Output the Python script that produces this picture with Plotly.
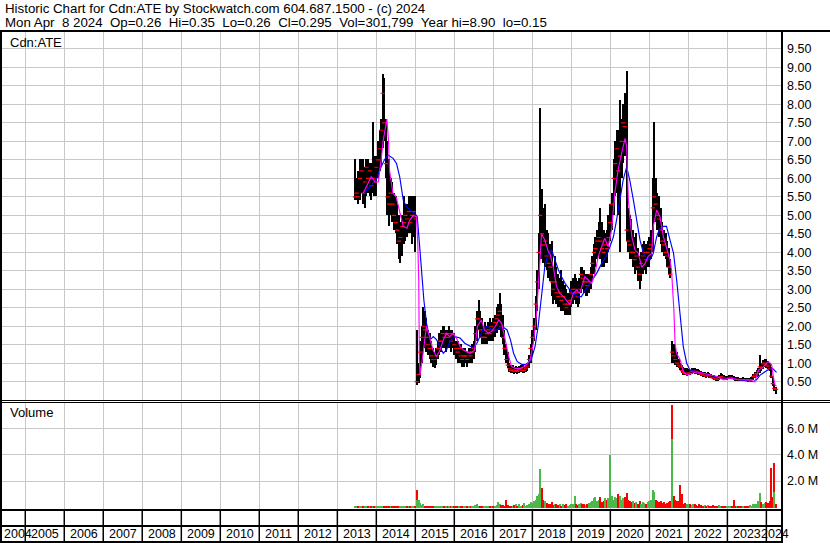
import plotly.graph_objects as go
import pandas as pd

# ---------------- data ----------------
# semi-monthly bars (1st and 15th of each month), Jun 15 2013 .. Apr 1 2024
bar_dates = pd.date_range("2013-06-15", "2024-04-01", freq="SMS")

price_high = [
    6.5, 6.0, 6.2, 6.5, 6.5, 6.5, 6.3, 6.5, 6.5, 6.4, 6.4, 7.5, 6.6,                                   # 2013
    6.6, 7.0, 7.3, 7.6, 8.8, 8.7, 7.6, 7.0, 6.5, 6.0, 5.9, 5.6, 5.5, 5.3, 5.0, 4.8, 5.0, 5.5, 5.3, 5.3, 5.5, 5.5, 5.5, 5.5,  # 2014
    5.5, 1.9, 1.0, 1.6, 2.0, 2.5, 2.4, 2.2, 1.9, 1.8, 1.6, 1.4, 1.3, 1.4, 1.6, 1.8, 1.9, 2.0, 2.0, 1.9, 1.9, 2.0, 1.9, 1.9,  # 2015
    1.8, 1.6, 1.6, 1.5, 1.5, 1.4, 1.4, 1.4, 1.3, 1.4, 1.4, 1.5, 1.6, 2.0, 2.4, 2.7, 2.4, 2.2, 2.0, 2.1, 2.0, 2.1, 2.2, 2.1,  # 2016
    2.2, 2.3, 2.5, 2.6, 2.9, 2.6, 2.3, 1.9, 1.5, 1.3, 1.0, 0.95, 0.95, 0.9, 0.92, 0.9, 0.92, 0.95, 0.95, 0.92, 0.95, 1.0, 1.2, 1.5,  # 2017
    1.9, 2.2, 2.8, 3.5, 4.5, 7.9, 5.7, 5.2, 5.3, 4.6, 4.5, 4.2, 4.3, 3.6, 3.9, 3.6, 3.4, 3.3, 3.5, 3.2, 3.1, 3.0, 2.9, 3.0,  # 2018
    3.2, 3.3, 3.4, 3.3, 3.2, 3.3, 3.6, 3.6, 3.5, 3.4, 3.4, 3.4, 3.6, 3.9, 4.2, 4.4, 4.6, 4.8, 5.2, 4.8, 4.6, 4.5, 4.6, 5.0,  # 2019
    5.3, 5.6, 6.5, 7.0, 7.3, 7.3, 8.1, 7.6, 8.0, 8.3, 8.9, 5.2, 5.0, 4.9, 4.6, 4.4, 4.5, 4.1, 3.9, 4.0, 4.2, 4.3, 4.2, 4.3,  # 2020
    4.4, 4.6, 6.0, 7.5, 6.0, 5.6, 5.5, 5.2, 4.8, 4.6, 4.5, 4.3, 4.1, 3.8, 1.6, 1.5, 1.4, 1.3, 1.1, 1.0, 0.95, 0.9, 0.85, 0.85,  # 2021
    0.82, 0.8, 0.85, 0.86, 0.85, 0.84, 0.82, 0.8, 0.78, 0.76, 0.75, 0.72, 0.74, 0.72, 0.7, 0.68, 0.66, 0.65, 0.64, 0.68, 0.72, 0.7, 0.66, 0.64,  # 2022
    0.64, 0.66, 0.68, 0.66, 0.64, 0.62, 0.63, 0.62, 0.6, 0.6, 0.62, 0.6, 0.6, 0.58, 0.6, 0.62, 0.7, 0.75, 0.8, 0.85, 1.22, 1.0, 1.08, 1.1,  # 2023
    1.1, 1.05, 1.0, 0.9, 0.65, 0.45, 0.35,                                                              # 2024
]
price_low = [
    5.4, 5.4, 5.3, 5.4, 5.6, 5.3, 5.2, 5.5, 5.6, 5.5, 5.4, 5.6, 5.5,
    5.5, 6.0, 6.2, 6.3, 6.8, 7.0, 6.0, 5.0, 4.7, 5.0, 4.8, 4.6, 4.5, 4.2, 3.8, 3.7, 3.9, 4.2, 4.3, 4.4, 4.5, 4.5, 4.2, 4.4,
    4.0, 0.4, 0.45, 0.6, 1.0, 1.4, 1.4, 1.3, 1.2, 1.1, 1.0, 0.9, 0.85, 0.95, 1.1, 1.2, 1.3, 1.4, 1.4, 1.3, 1.4, 1.4, 1.3, 1.4,
    1.2, 1.1, 1.0, 1.0, 1.0, 0.9, 0.9, 1.0, 0.9, 1.0, 1.0, 1.0, 1.1, 1.3, 1.6, 1.9, 1.7, 1.5, 1.5, 1.5, 1.5, 1.6, 1.6, 1.6,
    1.6, 1.7, 1.8, 1.9, 1.9, 1.7, 1.5, 1.2, 1.0, 0.85, 0.75, 0.72, 0.72, 0.7, 0.72, 0.7, 0.72, 0.75, 0.72, 0.72, 0.75, 0.78, 0.85, 1.0,
    1.2, 1.6, 1.9, 2.4, 3.0, 3.8, 3.8, 3.7, 3.6, 3.5, 3.3, 3.2, 2.8, 2.6, 2.7, 2.6, 2.5, 2.5, 2.4, 2.4, 2.3, 2.3, 2.3, 2.3,
    2.5, 2.6, 2.7, 2.6, 2.5, 2.6, 2.9, 3.0, 2.9, 2.8, 2.8, 2.9, 3.0, 3.2, 3.4, 3.6, 3.8, 3.9, 3.8, 3.6, 3.6, 3.7, 3.7, 4.0,
    4.3, 4.6, 5.0, 5.5, 5.6, 5.0, 4.0, 6.0, 6.4, 6.6, 4.3, 4.0, 3.8, 3.8, 3.6, 3.4, 3.5, 3.2, 3.0, 3.2, 3.4, 3.5, 3.4, 3.6,
    3.6, 3.8, 4.0, 4.8, 4.8, 4.6, 4.4, 4.2, 4.0, 3.9, 3.8, 3.6, 3.4, 3.3, 1.0, 1.0, 0.95, 0.9, 0.85, 0.8, 0.72, 0.68, 0.66, 0.65,
    0.66, 0.67, 0.7, 0.72, 0.7, 0.7, 0.68, 0.66, 0.64, 0.62, 0.62, 0.6, 0.62, 0.6, 0.58, 0.56, 0.54, 0.52, 0.52, 0.54, 0.56, 0.56, 0.55, 0.54,
    0.54, 0.55, 0.56, 0.55, 0.53, 0.52, 0.52, 0.52, 0.5, 0.5, 0.51, 0.5, 0.5, 0.49, 0.5, 0.5, 0.54, 0.58, 0.62, 0.65, 0.72, 0.78, 0.82, 0.88,
    0.85, 0.82, 0.78, 0.6, 0.38, 0.25, 0.15,
]
price_close = [
    5.5, 5.6, 5.5, 6.0, 6.2, 5.6, 5.9, 6.3, 6.0, 6.2, 5.8, 6.0, 5.9,
    6.3, 6.5, 6.8, 7.3, 8.3, 7.5, 6.4, 5.5, 5.3, 5.6, 5.3, 5.0, 4.8, 4.6, 4.3, 4.4, 4.7, 4.8, 5.0, 4.9, 5.1, 4.8, 5.0, 5.1,
    4.9, 0.5, 0.7, 1.3, 1.7, 2.0, 1.9, 1.7, 1.5, 1.4, 1.2, 1.1, 1.1, 1.2, 1.4, 1.6, 1.6, 1.8, 1.7, 1.8, 1.7, 1.8, 1.6, 1.8,
    1.5, 1.4, 1.3, 1.4, 1.2, 1.1, 1.2, 1.2, 1.1, 1.3, 1.2, 1.3, 1.4, 1.8, 2.2, 2.2, 1.9, 1.7, 1.7, 1.7, 1.8, 1.9, 1.8, 2.0,
    1.9, 2.1, 2.2, 2.3, 2.4, 2.0, 1.7, 1.4, 1.1, 0.95, 0.85, 0.8, 0.82, 0.78, 0.8, 0.78, 0.82, 0.85, 0.8, 0.8, 0.85, 0.9, 1.1, 1.4,
    1.7, 2.0, 2.6, 3.2, 4.0, 5.0, 4.5, 4.2, 4.3, 3.9, 3.7, 3.6, 3.2, 3.0, 3.2, 2.9, 2.8, 2.9, 2.7, 2.8, 2.6, 2.5, 2.6, 2.7,
    2.9, 3.0, 3.0, 2.9, 2.8, 3.0, 3.4, 3.3, 3.2, 3.2, 3.1, 3.2, 3.4, 3.7, 4.0, 4.1, 4.3, 4.4, 4.3, 4.1, 4.0, 4.2, 4.1, 4.4,
    4.8, 5.3, 6.0, 6.4, 6.8, 6.2, 6.6, 7.0, 7.5, 7.4, 4.6, 4.3, 4.2, 4.0, 4.0, 3.8, 3.9, 3.6, 3.4, 3.7, 3.9, 4.0, 3.8, 4.0,
    4.1, 4.2, 5.2, 5.5, 5.3, 5.0, 4.9, 4.6, 4.3, 4.2, 4.0, 3.9, 3.6, 3.4, 1.3, 1.2, 1.1, 1.0, 0.95, 0.9, 0.8, 0.75, 0.72, 0.72,
    0.74, 0.72, 0.78, 0.8, 0.78, 0.76, 0.74, 0.72, 0.7, 0.68, 0.68, 0.65, 0.68, 0.66, 0.62, 0.6, 0.58, 0.57, 0.56, 0.6, 0.64, 0.62, 0.6, 0.58,
    0.59, 0.6, 0.62, 0.6, 0.58, 0.56, 0.57, 0.56, 0.55, 0.54, 0.56, 0.55, 0.54, 0.53, 0.55, 0.56, 0.64, 0.68, 0.72, 0.78, 0.9, 0.88, 0.98, 1.0,
    0.95, 0.92, 0.85, 0.65, 0.45, 0.32, 0.295,
]
volume_m = [
    0.05, 0.04, 0.06, 0.05, 0.04, 0.06, 0.05, 0.08, 0.05, 0.04, 0.06, 0.1, 0.05,
    0.06, 0.08, 0.1, 0.12, 0.15, 0.1, 0.08, 0.1, 0.06, 0.05, 0.06, 0.05, 0.04, 0.05, 0.06, 0.05, 0.04, 0.05, 0.05, 0.06, 0.05, 0.04, 0.06, 0.08,
    0.1, 1.3, 0.55, 0.35, 0.2, 0.25, 0.15, 0.12, 0.1, 0.08, 0.1, 0.08, 0.06, 0.08, 0.1, 0.08, 0.06, 0.08, 0.07, 0.06, 0.08, 0.1, 0.07, 0.06,
    0.08, 0.06, 0.07, 0.05, 0.06, 0.05, 0.06, 0.05, 0.08, 0.06, 0.05, 0.07, 0.1, 0.2, 0.25, 0.15, 0.12, 0.1, 0.08, 0.1, 0.07, 0.08, 0.1, 0.12,
    0.15, 0.12, 0.2, 0.4, 0.25, 0.2, 0.18, 0.15, 0.6, 0.2, 0.15, 0.1, 0.15, 0.2, 0.25, 0.12, 0.3, 0.15, 0.2, 0.35, 0.15, 0.2, 0.3, 0.4,
    0.35, 0.5, 0.6, 0.9, 1.0, 2.9, 1.5, 0.6, 0.5, 0.35, 0.3, 0.25, 0.4, 0.2, 0.3, 0.25, 0.2, 0.3, 0.15, 0.25, 0.2, 0.3, 0.15, 0.2,
    0.25, 0.3, 0.85, 0.3, 0.2, 0.25, 0.35, 0.3, 0.25, 0.2, 0.3, 0.35, 0.4, 0.5, 0.7, 0.8, 0.5, 0.6, 0.8, 0.45, 0.5, 0.7, 0.6, 0.7,
    4.0, 0.9, 0.6, 0.8, 0.7, 1.0, 0.9, 0.6, 0.7, 0.8, 1.1, 0.6, 0.5, 0.4, 0.5, 0.35, 0.4, 0.3, 0.5, 0.3, 0.4, 0.35, 0.3, 0.4,
    0.5, 0.6, 1.3, 1.2, 0.6, 0.5, 0.4, 0.5, 0.35, 0.4, 0.3, 0.35, 0.4, 0.5, 7.8, 0.9, 0.6, 0.5, 0.5, 1.7, 1.0, 0.3, 0.35, 0.3,
    0.3, 0.25, 0.2, 0.3, 0.25, 0.2, 0.15, 0.25, 0.2, 0.15, 0.2, 0.15, 0.2, 0.15, 0.12, 0.2, 0.15, 0.12, 0.15, 0.2, 0.15, 0.12, 0.15, 0.1,
    0.12, 0.15, 0.1, 0.15, 0.6, 0.15, 0.1, 0.12, 0.1, 0.15, 0.12, 0.1, 0.15, 0.12, 0.2, 0.15, 0.25, 0.3, 0.3, 0.5, 1.1, 0.4, 0.3, 0.35,
    0.4, 0.35, 0.5, 3.0, 0.8, 3.37, 0.3,
]
# second (up-day) volume bar sharing the same slot as a big down-day bar
overlay_dates = ["2015-01-15", "2020-01-01", "2021-08-01", "2024-03-15"]
overlay_vol_m = [0.6, 2.3, 5.2, 1.2]

# magenta (short) moving average as drawn
ma_fast = [
    ("2013-09-01", 5.6), ("2013-10-15", 5.85), ("2013-11-15", 6.05), ("2013-12-20", 5.9), ("2014-01-20", 5.9),
    ("2014-02-15", 6.5), ("2014-03-05", 7.0), ("2014-04-10", 7.6), ("2014-04-25", 7.0), ("2014-05-05", 6.2),
    ("2014-06-05", 5.6), ("2014-07-05", 5.5), ("2014-08-05", 5.1), ("2014-09-10", 4.7), ("2014-10-15", 4.65),
    ("2014-11-10", 4.87), ("2014-12-15", 5.0), ("2015-01-12", 4.96), ("2015-01-25", 4.15), ("2015-02-02", 3.25),
    ("2015-02-08", 1.1), ("2015-02-14", 0.68), ("2015-03-15", 1.27), ("2015-04-15", 2.0), ("2015-05-15", 1.72),
    ("2015-06-15", 1.36), ("2015-07-20", 1.18), ("2015-08-20", 1.36), ("2015-09-20", 1.63), ("2015-10-20", 1.81),
    ("2015-11-20", 1.72), ("2015-12-20", 1.81), ("2016-01-20", 1.68), ("2016-02-25", 1.45), ("2016-03-25", 1.36),
    ("2016-04-25", 1.32), ("2016-05-30", 1.27), ("2016-07-10", 1.36), ("2016-08-05", 2.0), ("2016-09-10", 2.17),
    ("2016-10-10", 1.9), ("2016-11-15", 1.81), ("2016-12-15", 1.86), ("2017-01-20", 2.0), ("2017-02-20", 2.17),
    ("2017-03-20", 2.08), ("2017-04-20", 1.63), ("2017-05-25", 1.18), ("2017-06-20", 0.91), ("2017-07-25", 0.86),
    ("2017-09-10", 0.86), ("2017-10-20", 0.91), ("2017-12-10", 1.09), ("2018-01-10", 1.54), ("2018-02-10", 2.35),
    ("2018-03-13", 3.8), ("2018-03-28", 4.5), ("2018-04-27", 4.33), ("2018-05-30", 4.02), ("2018-06-14", 3.97),
    ("2018-07-16", 3.6), ("2018-08-15", 3.07), ("2018-09-16", 2.89), ("2018-10-20", 2.8), ("2018-11-17", 2.71),
    ("2018-12-20", 2.58), ("2019-01-18", 2.89), ("2019-02-20", 2.98), ("2019-03-20", 2.89), ("2019-05-08", 3.34),
    ("2019-06-08", 3.25), ("2019-07-10", 3.16), ("2019-08-10", 3.43), ("2019-09-10", 3.89), ("2019-10-12", 4.15),
    ("2019-11-10", 4.38), ("2019-12-12", 4.15), ("2020-01-12", 4.6), ("2020-02-12", 5.6), ("2020-03-14", 6.23),
    ("2020-04-16", 6.68), ("2020-05-18", 7.08), ("2020-06-02", 6.86), ("2020-06-18", 5.41), ("2020-07-20", 4.42),
    ("2020-08-19", 4.06), ("2020-09-20", 3.97), ("2020-10-20", 3.6), ("2020-11-22", 3.7), ("2020-12-20", 3.89),
    ("2021-01-22", 3.97), ("2021-02-06", 4.7), ("2021-03-10", 5.14), ("2021-04-10", 4.96), ("2021-05-12", 4.42),
    ("2021-06-10", 4.15), ("2021-07-12", 3.8), ("2021-07-27", 3.52), ("2021-08-18", 2.44), ("2021-08-29", 1.54),
    ("2021-09-12", 1.27), ("2021-10-16", 1.09), ("2021-11-15", 0.77), ("2021-12-16", 0.68), ("2022-03-18", 0.77),
    ("2022-05-20", 0.73), ("2022-07-24", 0.68), ("2022-09-25", 0.64), ("2022-11-25", 0.55), ("2023-01-27", 0.6),
    ("2023-03-30", 0.56), ("2023-05-30", 0.55), ("2023-07-31", 0.55), ("2023-09-16", 0.5), ("2023-10-20", 0.82),
    ("2023-11-17", 0.86), ("2023-12-20", 0.95), ("2024-01-18", 1.04), ("2024-02-05", 1.0), ("2024-02-20", 0.95),
    ("2024-03-06", 0.64), ("2024-03-22", 0.41), ("2024-04-05", 0.38),
]
# blue (long) moving average as drawn
ma_slow = [
    ("2013-09-01", 5.6), ("2013-11-03", 5.77), ("2014-01-04", 6.0), ("2014-02-03", 6.23), ("2014-03-18", 6.5),
    ("2014-04-20", 6.63), ("2014-06-07", 6.54), ("2014-07-09", 6.4), ("2014-08-08", 6.04), ("2014-09-10", 5.41),
    ("2014-10-12", 5.23), ("2014-11-10", 5.14), ("2014-12-28", 5.05), ("2015-01-19", 4.96), ("2015-02-06", 4.33),
    ("2015-02-28", 3.43), ("2015-03-22", 2.71), ("2015-04-16", 2.08), ("2015-05-19", 1.63), ("2015-06-18", 1.72),
    ("2015-07-20", 1.63), ("2015-08-18", 1.45), ("2015-09-20", 1.27), ("2015-10-20", 1.36), ("2015-11-22", 1.59),
    ("2016-01-08", 1.72), ("2016-02-24", 1.68), ("2016-04-08", 1.54), ("2016-05-26", 1.45), ("2016-06-28", 1.41),
    ("2016-07-31", 1.54), ("2016-08-30", 1.72), ("2016-10-01", 1.95), ("2016-11-03", 2.0), ("2016-12-20", 1.9),
    ("2017-02-03", 1.9), ("2017-03-22", 2.0), ("2017-05-09", 1.9), ("2017-06-10", 1.63), ("2017-07-09", 1.27),
    ("2017-08-11", 1.05), ("2017-09-27", 0.96), ("2017-11-13", 0.96), ("2017-12-20", 1.09), ("2018-01-26", 1.45),
    ("2018-02-24", 2.0), ("2018-03-28", 2.89), ("2018-04-27", 3.6), ("2018-05-30", 3.97), ("2018-07-01", 4.06),
    ("2018-07-31", 3.8), ("2018-09-02", 3.52), ("2018-10-01", 3.34), ("2018-11-03", 3.16), ("2018-12-20", 2.98),
    ("2019-01-18", 2.89), ("2019-03-07", 2.8), ("2019-04-05", 2.8), ("2019-05-23", 3.03), ("2019-07-10", 3.25),
    ("2019-08-26", 3.43), ("2019-10-12", 3.7), ("2019-11-28", 3.93), ("2019-12-28", 4.15), ("2020-01-30", 4.42),
    ("2020-02-28", 4.87), ("2020-04-01", 5.41), ("2020-04-30", 5.95), ("2020-06-02", 6.31), ("2020-07-01", 5.95),
    ("2020-08-04", 5.41), ("2020-09-06", 4.87), ("2020-10-05", 4.33), ("2020-11-07", 3.97), ("2020-12-06", 3.84),
    ("2021-01-08", 3.8), ("2021-02-06", 3.97), ("2021-03-10", 4.42), ("2021-04-08", 4.65), ("2021-05-12", 4.7),
    ("2021-06-10", 4.7), ("2021-07-13", 4.33), ("2021-08-15", 3.97), ("2021-09-13", 3.25), ("2021-10-16", 2.35),
    ("2021-11-14", 1.45), ("2021-12-16", 1.0), ("2022-01-15", 0.82), ("2022-03-18", 0.77), ("2022-05-19", 0.73),
    ("2022-07-23", 0.68), ("2022-10-23", 0.6), ("2023-01-27", 0.6), ("2023-04-28", 0.55), ("2023-09-02", 0.5),
    ("2023-10-01", 0.55), ("2023-11-03", 0.68), ("2023-12-20", 0.77), ("2024-01-18", 0.82), ("2024-02-28", 0.86),
    ("2024-04-05", 0.75),
]

price_ticks = [0.5, 1.0, 1.5, 2.0, 2.5, 3.0, 3.5, 4.0, 4.5, 5.0, 5.5, 6.0, 6.5, 7.0, 7.5, 8.0, 8.5, 9.0, 9.5]
price_tick_text = ["0.50", "1.00", "1.50", "2.00", "2.50", "3.00", "3.50", "4.00", "4.50", "5.00",
                   "5.50", "6.00", "6.50", "7.00", "7.50", "8.00", "8.50", "9.00", "9.50"]
vol_ticks = [2e6, 4e6, 6e6]
vol_tick_text = ["2.0 M", "4.0 M", "6.0 M"]
years = list(range(2004, 2025))

header1 = "Historic Chart for Cdn:ATE by Stockwatch.com 604.687.1500 - (c) 2024"
header2 = ("Mon Apr \u00a08 2024 \u00a0Op=0.26 \u00a0Hi=0.35 \u00a0Lo=0.26 \u00a0Cl=0.295 \u00a0"
           "Vol=301,799 \u00a0Year hi=8.90 \u00a0lo=0.15")

# ---------------- figure ----------------
W, H = 830, 543
FONT = "Liberation Sans, Arial, sans-serif"
GRID = "#c8c8c8"
GREEN = "#4cb84c"
RED = "#ff0000"
DAY_MS = 86400000


def px_x(p):
    return p / W


def px_y(p):
    return 1 - p / H


fig = go.Figure()

# price hi-lo bars
fig.add_trace(go.Bar(
    x=bar_dates, y=[h - l for h, l in zip(price_high, price_low)], base=price_low,
    width=10 * DAY_MS, marker=dict(color="black", line=dict(width=0)),
    xaxis="x", yaxis="y", hoverinfo="skip"))
# close ticks
fig.add_trace(go.Scatter(
    x=bar_dates, y=price_close, mode="markers",
    marker=dict(symbol="line-ew", size=3, line=dict(color=RED, width=1.2)),
    xaxis="x", yaxis="y", hoverinfo="skip"))
# moving averages
fig.add_trace(go.Scatter(
    x=[d for d, _ in ma_slow], y=[v for _, v in ma_slow], mode="lines",
    line=dict(color="#0000ff", width=1.15), xaxis="x", yaxis="y", hoverinfo="skip"))
fig.add_trace(go.Scatter(
    x=[d for d, _ in ma_fast], y=[v for _, v in ma_fast], mode="lines",
    line=dict(color="#ff00ff", width=1.15), xaxis="x", yaxis="y", hoverinfo="skip"))

# volume
vol_colors = [GREEN] + [GREEN if price_close[i] >= price_close[i - 1] else RED
                        for i in range(1, len(price_close))]
fig.add_trace(go.Bar(
    x=bar_dates, y=[v * 1e6 for v in volume_m], width=10 * DAY_MS,
    marker=dict(color=vol_colors, line=dict(width=0)),
    xaxis="x2", yaxis="y2", hoverinfo="skip"))
fig.add_trace(go.Bar(
    x=overlay_dates, y=[v * 1e6 for v in overlay_vol_m], width=10 * DAY_MS,
    marker=dict(color=GREEN, line=dict(width=0)),
    xaxis="x2", yaxis="y2", hoverinfo="skip"))

x_dom = [px_x(2), px_x(781)]
x_range = ["2004-05-28", "2024-05-17"]
common_x = dict(domain=x_dom, range=x_range, type="date", showgrid=True, gridcolor=GRID,
                gridwidth=1, tick0="2005-01-01", dtick="M12", showticklabels=False,
                ticks="", zeroline=False, showline=False, fixedrange=True)
tickfont = dict(family=FONT, size=12.5, color="black")

shapes = []


def hline(y, x0, x1, w):
    shapes.append(dict(type="line", xref="paper", yref="paper", x0=px_x(x0), x1=px_x(x1),
                       y0=px_y(y), y1=px_y(y), line=dict(color="black", width=w), layer="above"))


def vline(x, y0, y1, w):
    shapes.append(dict(type="line", xref="paper", yref="paper", x0=px_x(x), x1=px_x(x),
                       y0=px_y(y0), y1=px_y(y1), line=dict(color="black", width=w), layer="above"))


hline(31, 0, W, 2)        # under header
vline(1, 30, H, 2)        # left frame
vline(782, 30, H, 2)      # right frame of plot
hline(400.5, 0, W, 1)     # double separator
hline(402.5, 0, W, 1)
hline(510, 0, 782, 2)     # bottom of volume panel
hline(526, 0, 782, 2)     # between the two year rows
hline(542, 0, 782, 2)     # bottom
for yr in years[1:]:
    shapes.append(dict(type="line", xref="x", yref="paper", x0=f"{yr}-01-01", x1=f"{yr}-01-01",
                       y0=px_y(511), y1=px_y(541), line=dict(color="black", width=1.5),
                       layer="above"))

annotations = [
    dict(text=header1, x=px_x(3), y=px_y(8.5), xref="paper", yref="paper", xanchor="left",
         yanchor="middle", showarrow=False, font=dict(family=FONT, size=13.3, color="black")),
    dict(text=header2, x=px_x(3), y=px_y(22.5), xref="paper", yref="paper", xanchor="left",
         yanchor="middle", showarrow=False, font=dict(family=FONT, size=13.3, color="black")),
    dict(text="Cdn:ATE", x=px_x(8), y=px_y(42), xref="paper", yref="paper", xanchor="left",
         yanchor="middle", showarrow=False, font=dict(family=FONT, size=13, color="black")),
    dict(text="Volume", x=px_x(8), y=px_y(413), xref="paper", yref="paper", xanchor="left",
         yanchor="middle", showarrow=False, font=dict(family=FONT, size=13, color="black")),
]
for yr in years:
    if yr == 2004:
        pos = dict(x=px_x(1.5), xref="paper", xanchor="left")
    elif yr == 2024:
        pos = dict(x=px_x(759), xref="paper", xanchor="left")
    else:
        pos = dict(x=f"{yr}-07-01", xref="x", xanchor="center")
    annotations.append(dict(text=str(yr), y=px_y(534), yref="paper", yanchor="middle",
                            showarrow=False, font=dict(family=FONT, size=12.5, color="black"),
                            **pos))

fig.update_layout(
    width=W, height=H, margin=dict(l=0, r=0, t=0, b=0), autosize=False,
    paper_bgcolor="white", plot_bgcolor="white", showlegend=False, barmode="overlay",
    bargap=0,
    xaxis=dict(anchor="y", **common_x),
    xaxis2=dict(anchor="y2", matches="x", **common_x),
    yaxis=dict(domain=[px_y(400.2), px_y(30.4)], range=[0, 10], side="right", anchor="x",
               tickvals=price_ticks, ticktext=price_tick_text, showgrid=True, gridcolor=GRID,
               zeroline=False, showline=False, ticks="", tickfont=tickfont,
               ticklabelstandoff=5, fixedrange=True),
    yaxis2=dict(domain=[px_y(509), px_y(403)], range=[-0.114e6, 7.92e6], side="right",
                anchor="x2", tickvals=vol_ticks, ticktext=vol_tick_text, showgrid=True,
                gridcolor=GRID, zeroline=False, showline=False, ticks="", tickfont=tickfont,
                ticklabelstandoff=5, fixedrange=True),
    shapes=shapes, annotations=annotations,
)

# the page's default 8px body margin would shift the whole chart; remove it
fig.write_html("out.html", config={"displayModeBar": False},
               post_script="document.body.style.margin='0';document.body.style.padding='0';")
